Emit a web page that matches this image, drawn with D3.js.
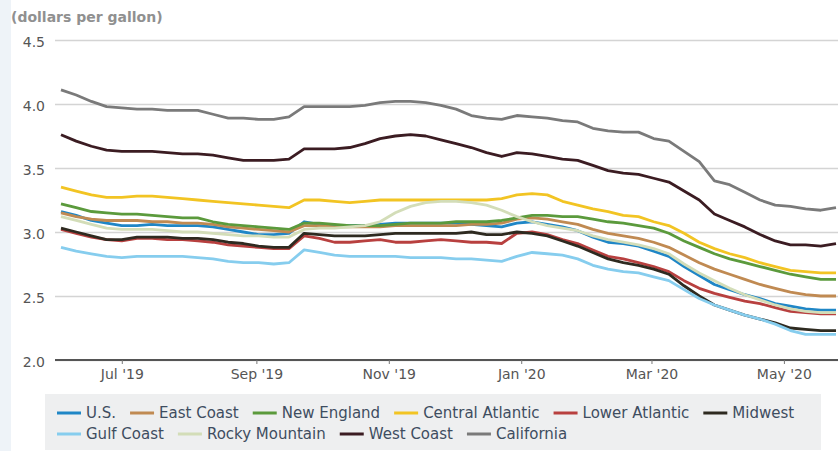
<!DOCTYPE html>
<html>
<head>
<meta charset="utf-8">
<script src="https://cdn.jsdelivr.net/npm/d3@7"></script>
<style>
  body { margin: 0; background: #fff; }
  svg { display: block; }
</style>
</head>
<body>
<script>
// weekly diesel retail prices, dollars per gallon
var weeks = ["2019-06-03","2019-06-10","2019-06-17","2019-06-24","2019-07-01","2019-07-08","2019-07-15","2019-07-22","2019-07-29",
  "2019-08-05","2019-08-12","2019-08-19","2019-08-26","2019-09-02","2019-09-09","2019-09-16","2019-09-23","2019-09-30",
  "2019-10-07","2019-10-14","2019-10-21","2019-10-28","2019-11-04","2019-11-11","2019-11-18","2019-11-25",
  "2019-12-02","2019-12-09","2019-12-16","2019-12-23","2019-12-30","2020-01-06","2020-01-13","2020-01-20","2020-01-27",
  "2020-02-03","2020-02-10","2020-02-17","2020-02-24","2020-03-02","2020-03-09","2020-03-16","2020-03-23","2020-03-30",
  "2020-04-06","2020-04-13","2020-04-20","2020-04-27","2020-05-04","2020-05-11","2020-05-18","2020-05-25"];

var us = [3.16,3.13,3.09,3.07,3.05,3.05,3.06,3.05,3.05,3.05,3.04,3.02,3.00,2.98,2.98,2.99,3.08,3.06,3.05,3.05,3.05,3.06,3.07,3.07,3.07,3.07,
  3.07,3.06,3.05,3.04,3.07,3.08,3.06,3.04,3.01,2.96,2.92,2.91,2.89,2.85,2.81,2.73,2.66,2.59,2.55,2.51,2.48,2.44,2.42,2.40,2.39,2.39];
var eastCoast = [3.15,3.12,3.10,3.09,3.09,3.09,3.08,3.08,3.07,3.07,3.06,3.04,3.03,3.02,3.01,3.00,3.05,3.05,3.04,3.04,3.04,3.04,3.05,3.05,3.05,3.05,
  3.05,3.06,3.06,3.07,3.10,3.11,3.10,3.08,3.06,3.02,2.99,2.97,2.95,2.92,2.88,2.82,2.76,2.71,2.67,2.63,2.59,2.56,2.53,2.51,2.50,2.50];
var newEngland = [3.22,3.19,3.16,3.15,3.14,3.14,3.13,3.12,3.11,3.11,3.08,3.06,3.05,3.04,3.03,3.02,3.07,3.07,3.06,3.05,3.05,3.05,3.06,3.07,3.07,3.07,
  3.08,3.08,3.08,3.09,3.11,3.13,3.13,3.12,3.12,3.10,3.08,3.07,3.05,3.03,2.99,2.93,2.88,2.83,2.79,2.76,2.73,2.70,2.67,2.65,2.63,2.63];
var centralAtlantic = [3.35,3.32,3.29,3.27,3.27,3.28,3.28,3.27,3.26,3.25,3.24,3.23,3.22,3.21,3.20,3.19,3.25,3.25,3.24,3.23,3.24,3.25,3.25,3.25,3.25,3.25,
  3.25,3.25,3.25,3.26,3.29,3.30,3.29,3.24,3.21,3.18,3.16,3.13,3.12,3.08,3.05,2.99,2.92,2.87,2.83,2.80,2.76,2.73,2.70,2.69,2.68,2.68];
var lowerAtlantic = [3.02,2.99,2.96,2.94,2.93,2.95,2.95,2.94,2.94,2.93,2.92,2.90,2.89,2.88,2.87,2.87,2.97,2.95,2.92,2.92,2.93,2.94,2.92,2.92,2.93,2.94,
  2.93,2.92,2.92,2.91,2.99,3.00,2.98,2.94,2.91,2.86,2.81,2.79,2.76,2.73,2.69,2.62,2.56,2.52,2.49,2.46,2.44,2.41,2.38,2.37,2.36,2.36];
var midwest = [3.03,3.00,2.97,2.94,2.94,2.96,2.96,2.96,2.95,2.95,2.94,2.92,2.91,2.89,2.88,2.88,2.99,2.98,2.97,2.97,2.97,2.98,2.99,2.99,2.99,2.99,
  2.99,3.00,2.98,2.98,3.00,2.99,2.97,2.93,2.89,2.84,2.79,2.76,2.74,2.71,2.67,2.58,2.50,2.43,2.39,2.35,2.32,2.29,2.25,2.24,2.23,2.23];
var gulfCoast = [2.88,2.85,2.83,2.81,2.80,2.81,2.81,2.81,2.81,2.80,2.79,2.77,2.76,2.76,2.75,2.76,2.86,2.84,2.82,2.81,2.81,2.81,2.81,2.80,2.80,2.80,
  2.79,2.79,2.78,2.77,2.81,2.84,2.83,2.82,2.79,2.74,2.71,2.69,2.68,2.65,2.62,2.55,2.48,2.43,2.39,2.35,2.32,2.28,2.23,2.20,2.20,2.20];
var rockyMountain = [3.12,3.09,3.06,3.03,3.02,3.02,3.02,3.01,3.00,3.00,2.99,2.98,2.97,2.97,2.96,2.96,3.02,3.03,3.03,3.04,3.05,3.08,3.15,3.20,3.23,3.24,
  3.24,3.23,3.21,3.17,3.12,3.08,3.05,3.03,3.01,2.97,2.94,2.92,2.90,2.87,2.83,2.75,2.68,2.62,2.56,2.51,2.47,2.43,2.40,2.38,2.37,2.37];
var westCoast = [3.76,3.71,3.67,3.64,3.63,3.63,3.63,3.62,3.61,3.61,3.60,3.58,3.56,3.56,3.56,3.57,3.65,3.65,3.65,3.66,3.69,3.73,3.75,3.76,3.75,3.72,
  3.69,3.66,3.62,3.59,3.62,3.61,3.59,3.57,3.56,3.52,3.48,3.46,3.45,3.42,3.39,3.32,3.25,3.14,3.09,3.04,2.98,2.93,2.90,2.90,2.89,2.91];
var california = [4.11,4.07,4.02,3.98,3.97,3.96,3.96,3.95,3.95,3.95,3.92,3.89,3.89,3.88,3.88,3.90,3.98,3.98,3.98,3.98,3.99,4.01,4.02,4.02,4.01,3.99,
  3.96,3.91,3.89,3.88,3.91,3.90,3.89,3.87,3.86,3.81,3.79,3.78,3.78,3.73,3.71,3.63,3.55,3.40,3.37,3.31,3.25,3.21,3.20,3.18,3.17,3.19];

var seriesNames = ["U.S.","East Coast","New England","Central Atlantic","Lower Atlantic","Midwest",
  "Gulf Coast","Rocky Mountain","West Coast","California"];
var seriesValues = [us, eastCoast, newEngland, centralAtlantic, lowerAtlantic, midwest,
  gulfCoast, rockyMountain, westCoast, california];
var seriesColors = ["#1f86c6","#c08a52","#5b9a3c","#f2c423","#b8403f","#2e2a20",
  "#86cdee","#d3ddb8","#3b1c22","#7a7a7a"];
var yTicks = [2.0, 2.5, 3.0, 3.5, 4.0, 4.5];

svgWidth = 838;
svgHeight = 451;
svg = d3.select('body').append('svg').attr('width', svgWidth).attr('height', svgHeight);

// faint strip on the left edge
svg.append('rect').attr('x', 0).attr('y', 0).attr('width', 11).attr('height', svgHeight).attr('fill', '#eef3f8');

parseDate = d3.timeParse("%Y-%m-%d");
dates = weeks.map(parseDate);

x = d3.scaleTime().domain([dates[0], dates[dates.length - 1]]).range([61, 836]);
y = d3.scaleLinear().domain([2.0, 4.5]).range([360, 40]);

svg.append('text')
  .attr('x', 11).attr('y', 22)
  .attr('font-family', 'DejaVu Sans, sans-serif')
  .attr('font-size', 14).attr('font-weight', 'bold')
  .attr('fill', '#909090')
  .text('(dollars per gallon)');

// gridlines + y labels
var yAxis = d3.axisLeft(y).tickValues(yTicks).tickFormat(d3.format('.1f')).tickSize(-(838 - 55)).tickPadding(10);
var gy = svg.append('g').attr('transform', 'translate(55,0)').call(yAxis);
gy.select('.domain').remove();
gy.selectAll('.tick line').attr('stroke', '#d4d4d4').attr('stroke-width', 1.5);
gy.selectAll('.tick text')
  .attr('font-family', 'DejaVu Sans, sans-serif').attr('font-size', 14).attr('fill', '#555')
  .attr('dy', '0.45em');

// x axis
var xAxis = d3.axisBottom(x)
  .tickValues([new Date(2019, 6, 1), new Date(2019, 8, 1), new Date(2019, 10, 1), new Date(2020, 0, 1), new Date(2020, 2, 1), new Date(2020, 4, 1)])
  .tickFormat(d3.timeFormat("%b '%y"))
  .tickSize(4).tickSizeOuter(0);
var gx = svg.append('g').attr('transform', 'translate(0,360)').call(xAxis);
gx.select('.domain').attr('d', 'M55,0H838').attr('stroke', '#555').attr('stroke-width', 2);
gx.selectAll('.tick line').attr('stroke', '#777');
gx.selectAll('.tick text')
  .attr('font-family', 'DejaVu Sans, sans-serif').attr('font-size', 14).attr('fill', '#555')
  .attr('y', 9);

var line = d3.line()
  .x((d, i) => x(dates[i]))
  .y(d => y(d));

svg.append('g').selectAll('path')
  .data(seriesValues)
  .enter().append('path')
  .attr('d', d => line(d))
  .attr('fill', 'none')
  .attr('stroke', (d, i) => seriesColors[i])
  .attr('stroke-width', 2.8)
  .attr('stroke-linejoin', 'round');

// legend
svg.append('rect').attr('x', 45).attr('y', 394).attr('width', 776).attr('height', 56).attr('fill', '#eeeff0');
var legendRows = [[0, 1, 2, 3, 4, 5], [6, 7, 8, 9]];
legendRows.forEach((row, r) => {
  var lx = 57;
  var ly = 413 + r * 21;
  row.forEach(k => {
    svg.append('line')
      .attr('x1', lx).attr('x2', lx + 24).attr('y1', ly).attr('y2', ly)
      .attr('stroke', seriesColors[k]).attr('stroke-width', 3);
    var t = svg.append('text')
      .attr('x', lx + 29).attr('y', ly).attr('dy', '0.36em')
      .attr('font-family', 'DejaVu Sans, sans-serif').attr('font-size', 15)
      .attr('fill', '#3e4d60')
      .text(seriesNames[k]);
    lx += 29 + t.node().getComputedTextLength() + 14;
  });
});
</script>
</body>
</html>
